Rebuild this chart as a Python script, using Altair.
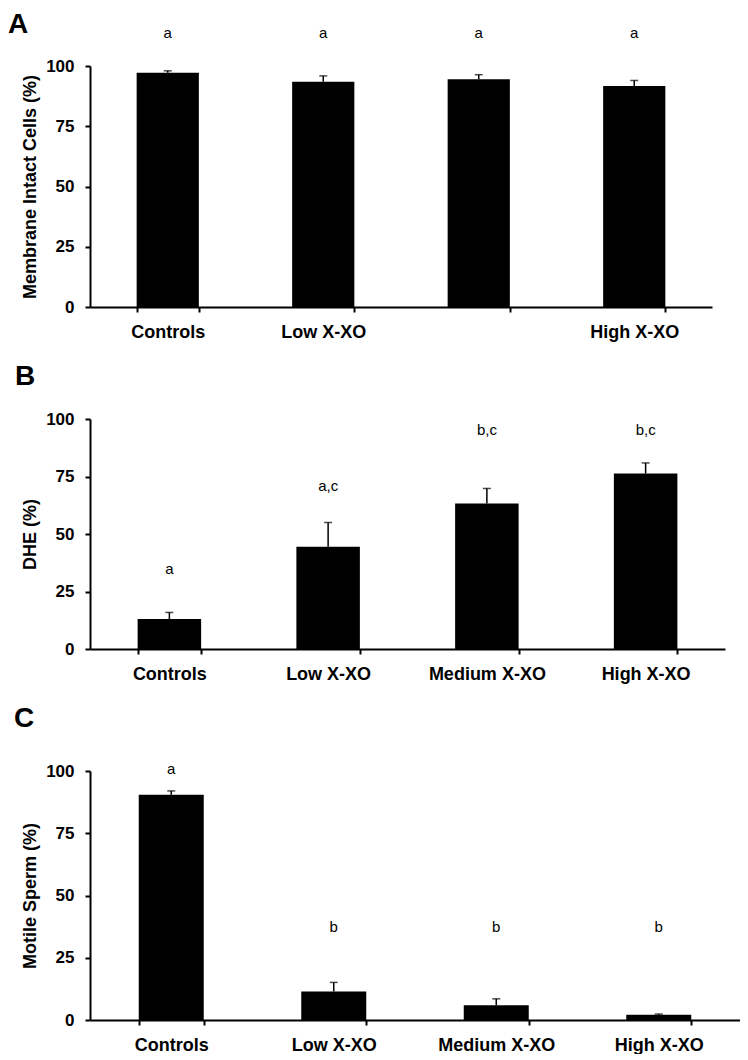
import altair as alt
import pandas as pd

FONT = "Liberation Sans"

categories = ["Controls", "Low X-XO", "Medium X-XO", "High X-XO"]

# Panel A: membrane intact cells (%)
a_mean = [97.2, 93.5, 94.5, 91.7]
a_err = [0.8, 2.4, 1.9, 2.3]
a_letters = ["a", "a", "a", "a"]
a_letter_y = [113.7, 113.7, 113.7, 113.7]

# Panel B: DHE (%)
b_mean = [13.0, 44.5, 63.3, 76.3]
b_err = [2.9, 10.5, 6.5, 4.6]
b_letters = ["a", "a,c", "b,c", "b,c"]
b_letter_y = [34.8, 71.0, 95.3, 95.3]

# Panel C: motile sperm (%)
c_mean = [90.5, 11.4, 5.9, 2.1]
c_err = [1.5, 3.7, 2.6, 0.3]
c_letters = ["a", "b", "b", "b"]
c_letter_y = [100.9, 37.3, 37.3, 37.3]

y_ticks = [0, 25, 50, 75, 100]


def panel(letter, means, errs, letters, letter_y, ytitle, width, height,
          letter_x, letter_base, hide_medium=False):
    df = pd.DataFrame({
        "cat": categories,
        "mean": means,
        "top": [m + e for m, e in zip(means, errs)],
        "letter": letters,
        "ly": letter_y,
    })
    yscale = alt.Scale(domain=[0, 100], nice=False, zero=True)
    xscale = alt.Scale(paddingInner=0.6, paddingOuter=0.3)
    xaxis = alt.Axis(
        title=None, labelAngle=0, tickBand="extent", tickSize=5, tickWidth=2,
        tickColor="black", domainColor="black", domainWidth=2,
        labelFont=FONT, labelFontSize=18, labelFontWeight="bold",
        labelColor="black", labelPadding=11, grid=False,
        labelExpr=("datum.label == 'Medium X-XO' ? '' : datum.label") if hide_medium else "datum.label",
    )
    yaxis = alt.Axis(
        title=ytitle, values=y_ticks, grid=False, tickSize=5, tickWidth=2,
        tickColor="black", domainColor="black", domainWidth=2,
        labelFont=FONT, labelFontSize=17, labelFontWeight="bold",
        labelColor="black", labelPadding=11,
        titleFont=FONT, titleFontSize=18, titleFontWeight="bold",
        titleColor="black", titlePadding=6)
    x = alt.X("cat:N", sort=categories, scale=xscale, axis=xaxis)

    bars = alt.Chart(df).mark_bar(color="black").encode(
        x=x,
        y=alt.Y("mean:Q", scale=yscale, axis=yaxis),
    )
    rule = alt.Chart(df).mark_rule(color="black", strokeWidth=1.5).encode(
        x=x,
        y=alt.Y("mean:Q", scale=yscale, axis=yaxis),
        y2="top:Q",
    )
    cap = alt.Chart(df).mark_tick(color="black", size=8, thickness=1.5).encode(
        x=x,
        y=alt.Y("top:Q", scale=yscale, axis=yaxis),
    )
    txt = alt.Chart(df).mark_text(font=FONT, fontSize=15, color="black",
                                  baseline="middle").encode(
        x=x,
        y=alt.Y("ly:Q", scale=yscale, axis=yaxis),
        text="letter:N",
    )
    lab = alt.Chart(pd.DataFrame({"panel": [letter]})).mark_text(
        font=FONT, fontSize=28, fontWeight="bold", color="black",
        align="left", baseline="alphabetic").encode(
        x=alt.value(letter_x),
        y=alt.value(letter_base),
        text="panel:N",
    )
    return alt.layer(bars, rule, cap, txt, lab).properties(width=width, height=height)


pa = panel("A", a_mean, a_err, a_letters, a_letter_y, "Membrane Intact Cells (%)",
           622, 241, -82, -33, hide_medium=True)
pb = panel("B", b_mean, b_err, b_letters, b_letter_y, "DHE (%)",
           635, 230, -75, -34)
pc = panel("C", c_mean, c_err, c_letters, c_letter_y, "Motile Sperm (%)",
           650, 249, -76, -44)

chart = alt.vconcat(pa, pb, pc, spacing=22).properties(
    padding={"left": 0, "top": 3, "right": 0, "bottom": 0}
).configure_view(stroke=None)

chart.save("out.html", embed_options={"renderer": "svg", "actions": False})
